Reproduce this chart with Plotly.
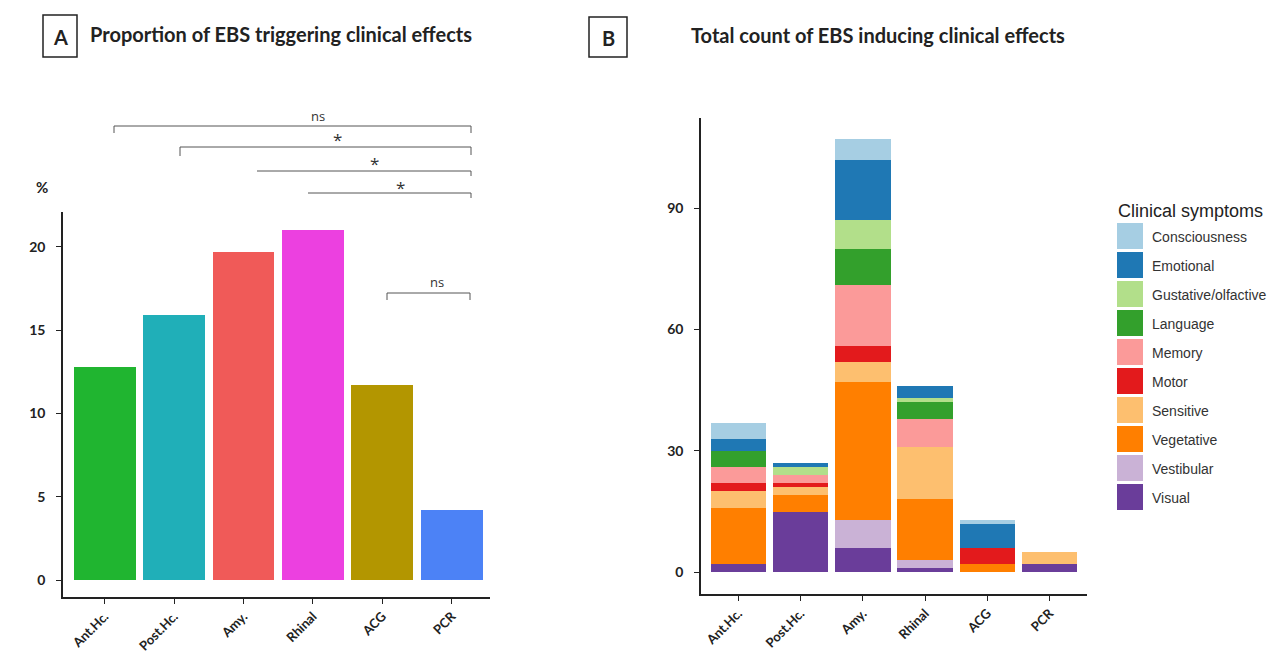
import plotly.graph_objects as go

# page body has an 8px margin: figure sized to fit the window
OFF = 8
W, H = 1283 - OFF, 655 - OFF

regions = ["Ant.Hc.", "Post.Hc.", "Amy.", "Rhinal", "ACG", "PCR"]

# Panel A: proportion (%) of EBS triggering clinical effects
proportion = [12.8, 15.9, 19.7, 21.0, 11.7, 4.2]
region_colors = ["#20B530", "#20AFB8", "#F05A58", "#EC40E0", "#B39600", "#4C82F6"]

# Panel B: counts per clinical symptom (legend order)
symptoms = ["Consciousness", "Emotional", "Gustative/olfactive", "Language", "Memory",
            "Motor", "Sensitive", "Vegetative", "Vestibular", "Visual"]
consciousness = [4, 0, 5, 0, 1, 0]
emotional = [3, 1, 15, 3, 6, 0]
gustative = [0, 2, 7, 1, 0, 0]
language = [4, 0, 9, 4, 0, 0]
memory = [4, 2, 15, 7, 0, 0]
motor = [2, 1, 4, 0, 4, 0]
sensitive = [4, 2, 5, 13, 0, 3]
vegetative = [14, 4, 34, 15, 2, 0]
vestibular = [0, 0, 7, 2, 0, 0]
visual = [2, 15, 6, 1, 0, 2]
symptom_values = [consciousness, emotional, gustative, language, memory,
                  motor, sensitive, vegetative, vestibular, visual]
symptom_colors = ["#A6CEE3", "#1F78B4", "#B2DF8A", "#33A02C", "#FB9A99",
                  "#E31A1C", "#FDBF6F", "#FF7F00", "#CAB2D6", "#6A3D9A"]

y_ticks_a = [0, 5, 10, 15, 20]
y_ticks_b = [0, 30, 60, 90]


def px(x):
    return (x - OFF) / W


def py(y):
    return 1 - (y - OFF) / H


fig = go.Figure()

fig.add_trace(go.Bar(x=regions, y=proportion, marker=dict(color=region_colors, line=dict(width=0)),
                     xaxis="x", yaxis="y", showlegend=False))

# stacked: bottom first
for name, vals, col in reversed(list(zip(symptoms, symptom_values, symptom_colors))):
    fig.add_trace(go.Bar(x=regions, y=vals, name=name, marker=dict(color=col, line=dict(width=0)),
                         xaxis="x2", yaxis="y2", showlegend=False))

tickfont = dict(family="Lato", size=14, color="#222", weight="bold")
xtickfont = dict(family="Lato", size=13, color="#222", weight="bold")
axis_common = dict(showline=True, linecolor="#222", linewidth=1.5, ticks="outside",
                   ticklen=5, tickcolor="#222", showgrid=False, zeroline=False)

fig.update_layout(
    width=W, height=H,
    margin=dict(l=0, r=0, t=0, b=0),
    paper_bgcolor="white", plot_bgcolor="white",
    barmode="stack", bargap=0.11,
    xaxis=dict(domain=[px(63), px(490)], range=[-0.6, 5.55], tickangle=-45,
               tickfont=xtickfont, anchor="y", **axis_common),
    yaxis=dict(domain=[py(597), py(212)], range=[-1.02, 22.08], tickvals=y_ticks_a,
               tickfont=tickfont, anchor="x", ticklabelstandoff=8, **axis_common),
    xaxis2=dict(domain=[px(701), px(1087)], range=[-0.6, 5.6], tickangle=-45,
                tickfont=xtickfont, anchor="y2", **axis_common),
    yaxis2=dict(domain=[py(594), py(118)], range=[-5.37, 112.3], tickvals=y_ticks_b,
                tickfont=tickfont, anchor="x2", ticklabelstandoff=8, **axis_common),
)

shapes = []
annotations = []


def line(x0, y0, x1, y1, color="#555", width=1):
    shapes.append(dict(type="line", xref="paper", yref="paper", x0=px(x0), y0=py(y0),
                       x1=px(x1), y1=py(y1), line=dict(color=color, width=width)))


def text(x, y, s, size, color="#222", xanchor="center", weight="normal", family="Lato"):
    annotations.append(dict(xref="paper", yref="paper", x=px(x), y=py(y), text=s, showarrow=False,
                            xanchor=xanchor, yanchor="middle",
                            font=dict(family=family, size=size, color=color, weight=weight)))


# significance brackets (panel A)
brackets = [(114, 471, 126, 133, 133, "ns", 318, 116),
            (180, 471, 147, 156, 155, "*", 337, 139),
            (257, 471, 171, 171, 176, "*", 374, 163),
            (308, 471, 193, 193, 198, "*", 400, 187),
            (387, 470, 293, 300, 300, "ns", 437, 282)]
for x0, x1, y, yl, yr, lab, tx, ty in brackets:
    line(x0, y, x1, y)
    if yl != y:
        line(x0, y, x0, yl)
    line(x1, y, x1, yr)
    text(tx, ty, lab, 13 if lab == "ns" else 17, color="#333", family="Open Sans")

# % label
text(42, 187, "%", 15, weight="bold")

# panel labels
shapes.append(dict(type="rect", xref="paper", yref="paper", x0=px(43), x1=px(77), y0=py(57), y1=py(15),
                   line=dict(color="#222", width=1.5)))
text(60, 37, "A", 20, weight="bold")
text(88, 34, "Proportion of EBS triggering clinical effects", 20, xanchor="left", weight="bold")

shapes.append(dict(type="rect", xref="paper", yref="paper", x0=px(589), x1=px(627), y0=py(57), y1=py(17),
                   line=dict(color="#222", width=1.5)))
text(608, 38, "B", 20, weight="bold")
text(689, 35, "Total count of EBS inducing clinical effects", 20, xanchor="left", weight="bold")

# legend (panel B)
text(1116, 211, "Clinical symptoms", 18, color="#222", xanchor="left", family="Liberation Sans")
for i, (name, col) in enumerate(zip(symptoms, symptom_colors)):
    top = 223 + 29 * i
    shapes.append(dict(type="rect", xref="paper", yref="paper", x0=px(1117), x1=px(1143),
                       y0=py(top + 26), y1=py(top), fillcolor=col, line=dict(width=0)))
    text(1150, top + 14, name, 14, color="#333", xanchor="left", family="Liberation Sans")

fig.update_layout(shapes=shapes, annotations=annotations)

fig.write_html("out.html")
